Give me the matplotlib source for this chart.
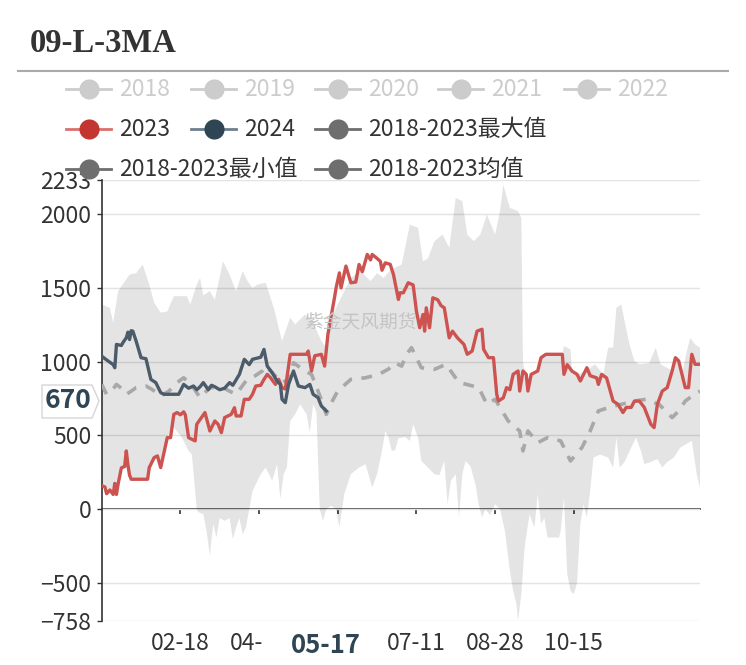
import numpy as np
import matplotlib
matplotlib.use("Agg")
import matplotlib.pyplot as plt
from matplotlib.lines import Line2D
from matplotlib.patches import Rectangle, Polygon

plt.rcParams['font.family'] = ['Noto Sans CJK SC', 'DejaVu Sans']

# x values are day offsets from 01-01 (category axis of calendar days)
tick_days = [48, 96, 144, 192, 240, 288]
tick_labels = ['02-18', '04-06', '', '07-11', '08-28', '10-15']  # 05-24 sits under the pointer label
y_ticks = [-758, -500, 0, 500, 1000, 1500, 2000, 2233]

days_2023 = [0, 2, 3, 5, 7, 8, 9, 10, 12, 14, 15, 16, 17, 18, 28, 29, 32, 34, 36, 40,
             42, 44, 46, 48, 50, 51, 53, 57, 58, 63, 66, 69, 71, 73, 75, 79, 81, 82, 85, 87,
             90, 92, 94, 97, 99, 101, 103, 106, 108, 110, 112, 113, 115, 125, 126, 128, 130, 134, 136, 138,
             142, 143, 145, 146, 149, 152, 155, 157, 159, 162, 164, 165, 168, 170, 171, 173, 176, 178, 181, 182,
             184, 187, 190, 192, 194, 196, 197, 198, 200, 202, 205, 207, 209, 212, 214, 217, 221, 223, 226, 229,
             232, 233, 236, 239, 241, 242, 245, 247, 249, 251, 254, 255, 257, 259, 260, 262, 266, 268, 271, 281,
             282, 284, 287, 290, 292, 296, 298, 302, 303, 305, 308, 312, 315, 318, 320, 323, 325, 328, 331, 335,
             337, 339, 342, 345, 348, 350, 352, 354, 356, 358, 360, 362, 365]
vals_2023 = [160, 150, 105, 130, 100, 175, 100, 170, 280, 290, 395, 300, 230, 203, 203, 282, 350, 361, 282, 485,
             485, 643, 655, 640, 660, 640, 485, 463, 576, 655, 530, 598, 576, 519, 621, 643, 688, 632, 632, 745,
             745, 779, 835, 840, 880, 914, 891, 846, 880, 824, 815, 891, 1050, 1050, 1072, 937, 1040, 1050, 970, 1185,
             1433, 1500, 1602, 1500, 1648, 1535, 1540, 1659, 1610, 1727, 1690, 1727, 1700, 1680, 1620, 1670, 1660, 1591, 1422, 1467,
             1467, 1535, 1520, 1343, 1230, 1320, 1207, 1365, 1230, 1433, 1420, 1380, 1365, 1162, 1207, 1162, 1117, 1050, 1072, 1207,
             1220, 1083, 1027, 1027, 779, 733, 755, 824, 810, 914, 937, 801, 937, 914, 801, 914, 937, 1027, 1050, 1050,
             914, 980, 935, 914, 869, 959, 905, 890, 846, 914, 890, 733, 711, 655, 690, 690, 733, 733, 690, 576,
             553, 711, 801, 824, 937, 1027, 1005, 914, 824, 824, 1050, 982, 982]

days_2024 = [0, 2, 4, 7, 8, 9, 12, 13, 15, 16, 17, 18, 19, 21, 24, 27, 30, 33, 36, 38,
             47, 50, 53, 56, 58, 60, 62, 65, 67, 69, 72, 75, 78, 80, 84, 87, 90, 92, 97, 99,
             101, 104, 107, 109, 110, 112, 114, 117, 120, 124, 127, 129, 132, 134, 137]
vals_2024 = [1038, 1020, 1004, 980, 959, 1117, 1110, 1130, 1162, 1200, 1150, 1210, 1207, 1140, 1027, 1020, 880, 858, 790, 779,
             779, 846, 820, 835, 810, 830, 858, 810, 840, 830, 810, 820, 858, 840, 914, 1016, 980, 1016, 1030, 1083,
             970, 925, 869, 846, 745, 722, 846, 937, 835, 824, 846, 779, 756, 700, 666]

max_days = [0, 5, 7, 10, 17, 21, 25, 29, 32, 36, 40, 44, 52, 54, 58, 60, 62, 66, 69, 74,
            78, 82, 86, 89, 92, 95, 100, 105, 110, 115, 118, 124, 128, 134, 137, 139, 141, 146, 152, 158,
            164, 168, 172, 176, 179, 183, 188, 193, 196, 199, 203, 208, 212, 216, 220, 223, 227, 231, 235, 240,
            243, 245, 249, 254, 256, 257, 258, 260, 262, 266, 268, 271, 281, 282, 286, 287, 291, 297, 301, 306,
            309, 312, 314, 317, 319, 322, 325, 328, 334, 338, 341, 348, 350, 354, 357, 359, 362, 365]
max_vals = [1388, 1365, 1264, 1478, 1591, 1600, 1659, 1523, 1400, 1332, 1340, 1444, 1444, 1388, 1523, 1568, 1450, 1478, 1420, 1681,
            1591, 1478, 1614, 1546, 1500, 1523, 1535, 1365, 1140, 1298, 1253, 1320, 1290, 1140, 1095, 1200, 1320, 1433, 1568, 1614,
            1546, 1600, 1568, 1620, 1636, 1659, 1930, 1907, 1681, 1700, 1817, 1862, 1772, 2110, 2088, 1862, 1817, 1862, 1997, 1862,
            2020, 2200, 2043, 2020, 1975, 1000, 930, 800, 910, 930, 1020, 1045, 1045, 1106, 1083, 914, 914, 950, 982, 914,
            1095, 1095, 1365, 1388, 1275, 1117, 1004, 982, 990, 1095, 982, 940, 1030, 915, 1072, 1162, 1117, 1095]

min_days = [0, 2, 3, 5, 7, 8, 9, 10, 12, 15, 17, 18, 28, 30, 32, 34, 36, 38, 40, 42,
            44, 48, 50, 53, 55, 58, 59, 62, 64, 66, 68, 70, 72, 75, 78, 80, 82, 84, 86, 88,
            90, 92, 97, 100, 102, 104, 107, 109, 111, 113, 115, 118, 121, 125, 127, 129, 131, 133, 135, 137,
            140, 143, 145, 148, 152, 157, 161, 165, 168, 171, 173, 175, 177, 179, 181, 185, 188, 190, 193, 195,
            199, 203, 206, 209, 211, 213, 216, 218, 220, 222, 225, 228, 230, 232, 234, 237, 240, 243, 246, 249,
            251, 253, 254, 256, 258, 261, 264, 266, 268, 270, 272, 279, 280, 282, 284, 286, 288, 290, 292, 294,
            296, 298, 300, 304, 309, 312, 314, 316, 319, 323, 326, 329, 331, 335, 339, 342, 345, 349, 353, 360,
            363, 365]
min_vals = [150, 145, 100, 125, 95, 100, 95, 160, 270, 280, 220, 195, 195, 280, 340, 340, 275, 370, 480, 540,
            553, 500, 463, 395, 372, 0, -20, -34, -150, -316, -100, -192, -60, -79, -60, -203, -124, -60, -170, -124,
            0, 124, 237, 282, 240, 192, 305, 68, 237, 282, 598, 643, 711, 643, 519, 711, 660, 0, -79, 0,
            23, 0, -124, 102, 237, 282, 305, 147, 237, 395, 530, 485, 395, 400, 480, 490, 463, 576, 485, 327,
            282, 237, 230, 327, 34, 192, 237, -56, 237, 327, 290, 169, 34, -56, 0, -40, 34, 0, -147, -418,
            -553, -643, -758, -576, -260, -34, -124, 102, -100, -60, -192, -192, -150, 80, -440, -553, -576, -500, -100, 34,
            -56, 124, 350, 370, 350, 282, 485, 282, 320, 418, 485, 395, 305, 320, 340, 282, 320, 350, 418, 463,
            237, 147]

mean_days = [0, 3, 6, 9, 12, 15, 18, 21, 27, 31, 36, 41, 46, 50, 55, 60, 66, 74, 78, 82,
             88, 93, 98, 100, 105, 110, 114, 117, 124, 128, 132, 135, 137, 141, 144, 152, 161, 169, 175, 179,
             183, 186, 189, 195, 203, 210, 218, 223, 230, 235, 240, 248, 255, 257, 260, 266, 272, 280, 286, 293,
             298, 303, 309, 317, 325, 332, 340, 348, 352, 356, 363, 365]
mean_vals = [846, 779, 800, 846, 820, 779, 800, 824, 835, 810, 767, 800, 858, 891, 840, 756, 824, 824, 800, 779,
             869, 900, 937, 970, 914, 858, 880, 993, 937, 914, 800, 711, 643, 740, 801, 880, 891, 914, 950, 993,
             970, 1050, 1095, 959, 948, 982, 858, 845, 824, 711, 745, 598, 530, 395, 530, 451, 485, 463, 327, 418,
             530, 666, 688, 711, 733, 745, 711, 621, 666, 733, 790, 800]

W, H = 746, 665


def fx(x):
    return x / W


def fy(y):
    return 1 - y / H


fig = plt.figure(figsize=(W / 100, H / 100), dpi=100)
ax = fig.add_axes([fx(101.7), fy(621), (700 - 101.7) / W, (621 - 179.8) / H])

# 2018-2023 range band (max on top, min below)
band_x = np.r_[max_days, min_days[::-1]]
band_y = np.r_[max_vals, min_vals[::-1]]
ax.fill(band_x, band_y, color='black', alpha=0.105, lw=0, zorder=1)

ax.plot(mean_days, mean_vals, color='#a8a8a8', lw=2.6, ls=(0, (3, 2.6)), zorder=3)
ax.plot(days_2023, vals_2023, color='#cd5350', lw=2.4, zorder=4)
ax.plot(days_2024, vals_2024, color='#4b5b69', lw=2.4, zorder=5)

ax.set_xlim(0, 365)
ax.set_ylim(-758, 2233)
ax.set_yticks(y_ticks)
ax.yaxis.grid(True, color='#e3e3e3', lw=1)
ax.set_axisbelow(True)
ax.set_xticks(tick_days)
ax.set_xticklabels(tick_labels)
ax.tick_params(axis='x', length=0, pad=8, labelsize=16.5, labelcolor='#333333')
ax.tick_params(axis='y', length=3.6, width=1, color='#333333', pad=4,
               labelsize=16.5, labelcolor='#333333')
for s in ['top', 'right', 'bottom']:
    ax.spines[s].set_visible(False)
ax.spines['left'].set_color('#333333')
ax.spines['left'].set_linewidth(1.2)

# x axis line sits on zero
zero_pos = (0 - ax.get_ylim()[0]) / (ax.get_ylim()[1] - ax.get_ylim()[0])
sec = ax.secondary_xaxis(zero_pos)
sec.set_xticks(tick_days)
sec.set_xticklabels([])
sec.tick_params(length=3.6, width=1.2, color='#333333', direction='out')
sec.spines['bottom'].set_color('#333333')
sec.spines['bottom'].set_linewidth(1.2)

# axis pointer labels
ax.add_patch(Rectangle((fx(263), fy(662)), (378 - 263) / W, 32 / H, transform=fig.transFigure,
                       facecolor='white', edgecolor='none', zorder=10, clip_on=False))
ax.text(137, -0.055, '05-17', transform=ax.get_xaxis_transform(), ha='center', va='center',
        fontsize=18.5, fontweight='bold', color='#2f4554', zorder=11, clip_on=False)
tag = [(42, 385), (92, 385), (99, 401), (92, 418), (42, 418)]
fig.add_artist(Polygon([(fx(a), fy(b)) for a, b in tag], closed=True, transform=fig.transFigure,
                       facecolor='white', edgecolor='#d6d6d6', lw=1, zorder=10))
fig.text(fx(68), fy(401), '670', ha='center', va='center', fontsize=19, fontweight='bold',
         color='#2f4554', zorder=11)

# watermark
fig.text(fx(360), fy(323), '紫金天风期货', ha='center', va='center', fontsize=13.5, color='#c4c4c4')

# title
fig.text(fx(30), fy(52), '09-L-3MA', family='Liberation Serif', fontweight='bold', fontsize=23.5,
         color='#333333', va='baseline')
fig.add_artist(Line2D([fx(18), fx(728)], [fy(71), fy(71)], color='#aaaaaa', lw=1.5))

# legend
legend_items = [
    ('2018', 89, 89, '#cccccc', '#cccccc', '#cccccc'),
    ('2019', 214, 89, '#cccccc', '#cccccc', '#cccccc'),
    ('2020', 338, 89, '#cccccc', '#cccccc', '#cccccc'),
    ('2021', 461, 89, '#cccccc', '#cccccc', '#cccccc'),
    ('2022', 587, 89, '#cccccc', '#cccccc', '#cccccc'),
    ('2023', 89, 129, '#c23531', '#d9706c', '#333333'),
    ('2024', 214, 129, '#2f4554', '#6d7f8c', '#333333'),
    ('2018-2023最大值', 338, 129, '#6e6e6e', '#6e6e6e', '#333333'),
    ('2018-2023最小值', 89, 169, '#6e6e6e', '#6e6e6e', '#333333'),
    ('2018-2023均值', 338, 169, '#6e6e6e', '#6e6e6e', '#333333'),
]
for label, cx, cy, mcol, lcol, tcol in legend_items:
    fig.add_artist(Line2D([fx(cx - 23), fx(cx + 22)], [fy(cy), fy(cy)], color=lcol, lw=2, zorder=12))
    fig.add_artist(Line2D([fx(cx)], [fy(cy)], marker='o', markersize=14.5, color=mcol,
                          markeredgewidth=0, zorder=13))
    fig.text(fx(cx + 30), fy(cy), label, ha='left', va='center', fontsize=16.5, color=tcol, zorder=13)

fig.savefig('out.png', dpi=100)
